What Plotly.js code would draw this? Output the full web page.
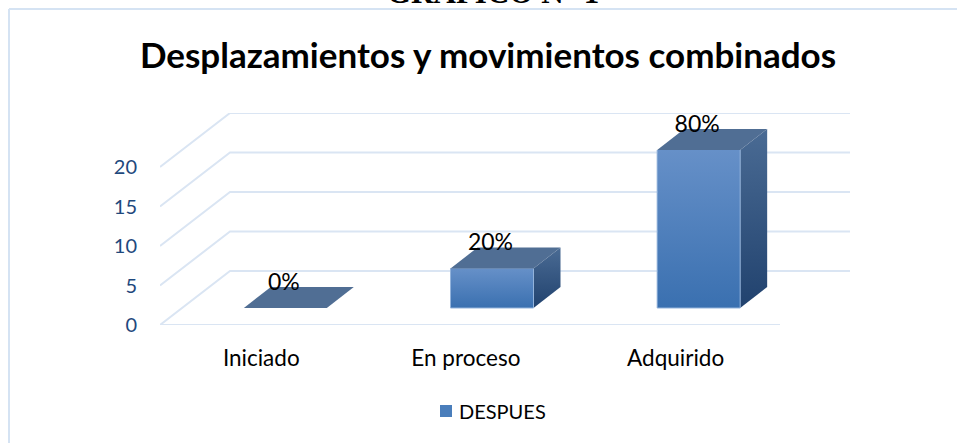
<!DOCTYPE html>
<html><head><meta charset="utf-8">
<script src="https://cdn.plot.ly/plotly-3.0.1.min.js"></script>
<style>html,body{margin:0;padding:0;background:#fff}#c{width:957px;height:443px}</style></head>
<body><div id="c"></div>
<script>
var categories = ['Iniciado','En proceso','Adquirido'];
var values = [0,5,20];
var percentLabels = ['0%','20%','80%'];
var yTicks = [0,5,10,15,20];
var seriesName = 'DESPUES';
var chartTitle = 'Desplazamientos y movimientos combinados';
var headerText = 'GRÁFICO N° 1';

var W=957,H=443,L=160,R=850,T=113,B=325;
var xUnit=620/3, yUnit=7.9;
var xMin=-0.5, xMax=xMin+(R-L)/xUnit, yMax=(B-T)/yUnit;
var wallDx=70/xUnit, wallDy=54/yUnit;
var barDx=22/xUnit, barDy=17/yUnit, barW=83/xUnit, depthDx=27/xUnit, depthDy=21/yUnit;
var gridColor='#dae5f3', textBlue='#1f497d';
var traces=[];
function poly(xs,ys,extra){var t={type:'scatter',mode:'lines',x:xs,y:ys,showlegend:false,hoverinfo:'skip',line:{width:0},fill:'toself'};for(var k in extra)t[k]=extra[k];traces.push(t);}
function vGrad(a,b){return {type:'vertical',colorscale:[[0,a],[1,b]]};}

yTicks.forEach(function(v){
  traces.push({type:'scatter',mode:'lines',x:[xMin,xMin+wallDx,xMax],y:[v,v+wallDy,v+wallDy],showlegend:false,hoverinfo:'skip',line:{color:gridColor,width:2}});
});
traces.push({type:'scatter',mode:'lines',x:[xMin,xMin+3],y:[0,0],showlegend:false,hoverinfo:'skip',line:{color:gridColor,width:2}});

var centers=categories.map(function(_,i){return i+barDx;});
traces.push({type:'bar',name:seriesName,x:centers,y:values,base:values.map(function(){return barDy;}),width:barW,marker:{color:'#4a7ebb',line:{width:0}},hoverinfo:'skip'});

values.forEach(function(v,i){
  var x0=centers[i]-barW/2,x1=centers[i]+barW/2,y0=barDy,y1=barDy+v;
  if(v>0){
    poly([x0,x1,x1,x0,x0],[y0,y0,y1,y1,y0],{fillgradient:vGrad('#3a70b0','#6690c8')});
    poly([x1,x1+depthDx,x1+depthDx,x1,x1],[y0,y0+depthDy,y1+depthDy,y1,y0],{fillgradient:vGrad('#21426e','#4a6b94')});
    traces.push({type:'scatter',mode:'lines',x:[x0,x0,x1,x1],y:[y1,y0,y0,y1],line:{color:'#93b3db',width:1},showlegend:false,hoverinfo:'skip'});
  }
  poly([x0,x1,x1+depthDx,x0+depthDx,x0],[y1,y1,y1+depthDy,y1+depthDy,y1],{fillcolor:'#506e94'});
});

traces.push({type:'scatter',mode:'text',x:centers.map(function(c){return c-1.5/xUnit;}),y:values.map(function(v){return barDy+v+24/yUnit;}),text:percentLabels,textposition:'middle center',textfont:{family:'Lato, sans-serif',size:23,color:'#000'},showlegend:false,hoverinfo:'skip',cliponaxis:false});

var layout={
  width:W,height:H,paper_bgcolor:'#fff',plot_bgcolor:'rgba(0,0,0,0)',
  margin:{l:L,r:W-R,t:T,b:H-B,pad:0},showlegend:true,
  title:{text:'<b>'+chartTitle+'</b>',font:{family:'Lato, sans-serif',size:35,color:'#000'},x:488/W,xanchor:'center',y:1-56/H,yanchor:'middle'},
  xaxis:{range:[xMin,xMax],tickvals:[-0.01,0.98,1.995],ticktext:categories,showgrid:false,zeroline:false,showline:false,ticks:'',ticklabelstandoff:17,tickfont:{family:'Lato, sans-serif',size:22.5,color:'#000'},fixedrange:true},
  yaxis:{range:[0,yMax],tickvals:yTicks,showgrid:false,zeroline:false,showline:false,ticks:'',ticklabelstandoff:22,tickfont:{family:'Lato, sans-serif',size:20,color:textBlue},fixedrange:true},
  legend:{orientation:'h',x:(485-L)/(R-L),xanchor:'center',y:-(411-B)/(B-T),yanchor:'middle',font:{family:'Lato, sans-serif',size:20,color:'#000'},bgcolor:'rgba(0,0,0,0)'},
  shapes:[
    {type:'line',xref:'paper',yref:'paper',x0:(9-L)/(R-L),x1:(957-L)/(R-L),y0:(B-9)/(B-T),y1:(B-9)/(B-T),line:{color:'#d5e3f3',width:2},layer:'below'},
    {type:'line',xref:'paper',yref:'paper',x0:(9-L)/(R-L),x1:(9-L)/(R-L),y0:(B-9)/(B-T),y1:(B-443)/(B-T),line:{color:'#d5e3f3',width:2},layer:'below'}
  ],
  annotations:[{xref:'paper',yref:'paper',x:(493-L)/(R-L),y:(B-12)/(B-T),xanchor:'center',yanchor:'bottom',text:'<b>'+headerText+'</b>',showarrow:false,font:{family:'Liberation Serif, serif',size:31,color:'#000'}}]
};
Plotly.newPlot('c',traces,layout,{displayModeBar:false,staticPlot:true}).then(function(){
  var s=document.querySelector('.legend .legendsymbols');
  if(s){s.setAttribute('transform','translate(7,0)');}
});
</script></body></html>
